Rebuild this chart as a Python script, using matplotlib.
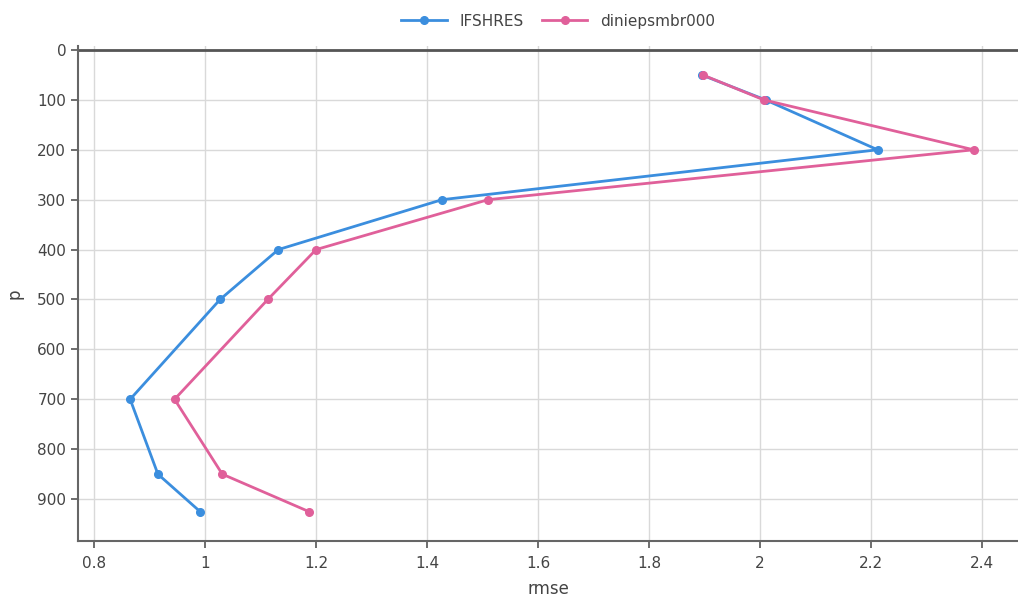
import matplotlib.pyplot as plt
import numpy as np

pressure = [50, 100, 200, 300, 400, 500, 700, 850, 925]
rmse_ifshres = [1.895, 2.01, 2.212, 1.427, 1.132, 1.027, 0.865, 0.915, 0.991]
rmse_dini = [1.897, 2.007, 2.385, 1.510, 1.200, 1.113, 0.945, 1.031, 1.187]

blue = '#3b8ede'
pink = '#e0609a'
tick_col = '#444444'

fig = plt.figure(figsize=(10.18, 6.03), dpi=100)
ax = fig.add_axes([78/1018, 1 - 541/603, 940/1018, 495/603])

ax.plot(rmse_ifshres, pressure, color=blue, marker='o', markersize=5.5, lw=2, label='IFSHRES')
ax.plot(rmse_dini, pressure, color=pink, marker='o', markersize=5.5, lw=2, label='diniepsmbr000')

ax.set_xlim(0.771, 2.465)
ax.set_ylim(984, -8)
ax.set_xticks(np.arange(0.8, 2.41, 0.2))
ax.set_xticklabels(['0.8', '1', '1.2', '1.4', '1.6', '1.8', '2', '2.2', '2.4'])
ax.set_yticks(np.arange(0, 901, 100))

ax.grid(True, color='#d9d9d9', lw=1)
ax.set_axisbelow(True)
ax.axhline(0, color='#555555', lw=2, zorder=1)

for s in ['top', 'right']:
    ax.spines[s].set_visible(False)
ax.spines['left'].set_color('#666666')
ax.spines['left'].set_linewidth(1.5)
ax.spines['bottom'].set_color('#666666')
ax.spines['bottom'].set_linewidth(1.5)

ax.tick_params(axis='both', colors='#555555', labelcolor=tick_col, labelsize=11, length=5, width=1.2)
ax.tick_params(axis='x', pad=6)

# x label placed by hand so it sits inside the bottom edge
fig.text(548/1018, 1 - 589/603, 'rmse', fontsize=12, color=tick_col, ha='center', va='center')
ax.set_ylabel('p', fontsize=12, color=tick_col, labelpad=10)

fig.legend(loc='upper center', bbox_to_anchor=(0.548, 1.0), ncol=2, frameon=False,
           fontsize=11, handlelength=3, columnspacing=1.2, labelcolor=tick_col)

fig.savefig('out.png', dpi=100)
